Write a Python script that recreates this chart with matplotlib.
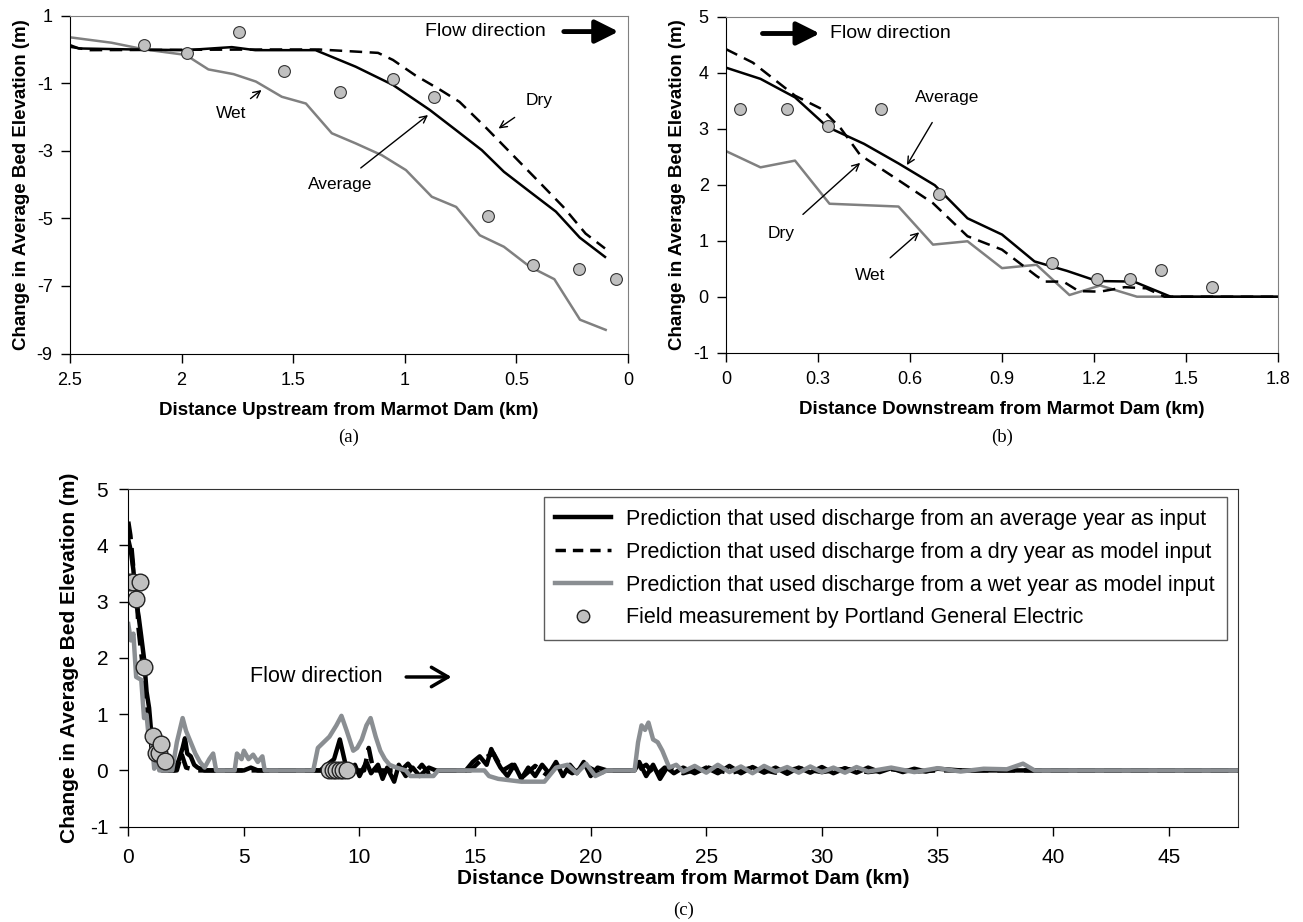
import numpy as np
import matplotlib.pyplot as plt

plt.rcParams['font.family'] = ['Liberation Sans', 'DejaVu Sans']
plt.rcParams['axes.unicode_minus'] = False

# ---- panel (a): upstream of the dam ----
a_avg_x = [2.5, 2.46, 2.21, 1.98, 1.775, 1.67, 1.40, 1.33, 1.22, 1.053, 0.888, 0.77, 0.655, 0.556, 0.44, 0.323, 0.216, 0.103]
a_avg_y = [0.13, 0.03, 0.0, -0.02, 0.07, -0.02, -0.02, -0.21, -0.51, -1.05, -1.79, -2.39, -2.98, -3.62, -4.21, -4.80, -5.57, -6.14]
a_dry_x = [2.5, 2.41, 2.0, 1.6, 1.385, 1.12, 1.053, 0.954, 0.84, 0.755, 0.64, 0.523, 0.406, 0.29, 0.19, 0.103]
a_dry_y = [0.08, -0.02, -0.01, 0.0, 0.0, -0.1, -0.31, -0.76, -1.2, -1.55, -2.29, -3.08, -3.87, -4.66, -5.45, -5.89]
a_wet_x = [2.5, 2.314, 2.165, 1.982, 1.88, 1.767, 1.667, 1.551, 1.443, 1.327, 1.22, 1.103, 0.995, 0.879, 0.77, 0.664, 0.556, 0.44, 0.33, 0.215, 0.1]
a_wet_y = [0.36, 0.2, 0.0, -0.16, -0.59, -0.73, -0.95, -1.4, -1.6, -2.48, -2.78, -3.13, -3.57, -4.36, -4.66, -5.5, -5.84, -6.43, -6.8, -8.0, -8.3]
a_obs_x = [2.168, 1.977, 1.742, 1.543, 1.292, 1.053, 0.871, 0.629, 0.426, 0.221, 0.053]
a_obs_y = [0.13, -0.1, 0.53, -0.64, -1.27, -0.87, -1.41, -4.93, -6.38, -6.51, -6.79]

# ---- panel (b): downstream of the dam ----
b_avg_x = [0.0, 0.1125, 0.225, 0.331, 0.45, 0.5625, 0.681, 0.7875, 0.9, 1.006, 1.1125, 1.21, 1.33, 1.45, 1.8]
b_avg_y = [4.09, 3.89, 3.56, 3.03, 2.73, 2.38, 1.99, 1.40, 1.11, 0.63, 0.46, 0.28, 0.27, 0.0, 0.0]
b_dry_x = [0.0, 0.0875, 0.225, 0.3125, 0.375, 0.4375, 0.5625, 0.675, 0.7875, 0.9, 1.0125, 1.04, 1.1, 1.15, 1.22, 1.3, 1.37, 1.43, 1.8]
b_dry_y = [4.42, 4.18, 3.59, 3.35, 3.0, 2.53, 2.08, 1.67, 1.08, 0.84, 0.37, 0.27, 0.27, 0.1, 0.09, 0.17, 0.15, 0.0, 0.0]
b_wet_x = [0.0, 0.1125, 0.225, 0.3375, 0.5625, 0.675, 0.7875, 0.9, 1.0125, 1.12, 1.22, 1.34, 1.8]
b_wet_y = [2.6, 2.31, 2.43, 1.66, 1.61, 0.93, 0.99, 0.51, 0.57, 0.03, 0.2, 0.0, 0.0]
b_obs_x = [0.046, 0.198, 0.331, 0.504, 0.696, 1.062, 1.209, 1.316, 1.419, 1.585]
b_obs_y = [3.35, 3.35, 3.04, 3.35, 1.83, 0.61, 0.31, 0.31, 0.47, 0.17]

# ---- panel (c): whole reach ----
c_avg_x = [0.0, 0.11, 0.22, 0.33, 0.45, 0.56, 0.68, 0.79, 0.9, 1.0, 1.11, 1.21, 1.33, 1.45, 2.0, 2.2, 2.35, 2.45,
           2.55, 2.7, 2.85, 3.0, 3.3, 5.0, 5.3, 5.6, 8.3, 8.6, 8.9, 9.15, 9.4, 9.6, 9.8, 10.0, 10.3, 10.5, 10.8,
           11.0, 11.2, 11.5, 11.7, 12.0, 12.3, 12.6, 13.0, 13.3, 14.6, 14.9, 15.2, 15.5, 15.7, 15.9, 16.1, 16.4,
           16.7, 17.0, 17.3, 17.6, 17.9, 18.2, 18.5, 18.8, 19.1, 19.4, 19.7, 20.0, 20.3, 20.7, 21.9, 22.1, 22.4,
           22.7, 23.0, 23.3, 23.6, 24.0, 24.5, 25.0, 25.5, 26.0, 26.5, 27.0, 27.5, 28.0, 28.5, 29.0, 29.5, 30.0,
           30.5, 31.0, 31.5, 32.0, 32.5, 33.0, 33.5, 34.0, 34.5, 35.0, 36.0, 48.0]
c_avg_y = [4.1, 3.9, 3.56, 3.03, 2.73, 2.38, 1.99, 1.4, 1.11, 0.63, 0.46, 0.28, 0.27, 0.0, 0.0, 0.2, 0.4, 0.57,
           0.3, 0.25, 0.1, 0.05, 0.0, 0.0, 0.05, 0.0, 0.0, 0.1, 0.2, 0.55, 0.1, -0.05, 0.1, -0.1, 0.15, -0.05, 0.1,
           -0.15, 0.05, -0.2, 0.1, -0.1, 0.05, -0.1, 0.05, 0.0, 0.0, 0.15, 0.25, 0.1, 0.38, 0.2, 0.05, -0.1,
           0.1, -0.15, 0.05, -0.1, 0.1, -0.05, 0.15, -0.1, 0.1, -0.05, 0.15, -0.1, 0.05, 0.0, 0.0, 0.15, -0.1,
           0.1, -0.15, 0.05, -0.05, 0.05, -0.05, 0.05, -0.05, 0.08, -0.05, 0.06, -0.04, 0.05, -0.06, 0.05, -0.04, 0.06,
           -0.05, 0.04, -0.04, 0.05, -0.03, 0.04, -0.03, 0.03, -0.02, 0.03, 0.0, 0.0]
c_dry_x = [0.0, 0.09, 0.22, 0.31, 0.38, 0.44, 0.56, 0.68, 0.79, 0.9, 1.01, 1.1, 1.2, 1.3, 1.43, 2.1, 2.3, 2.5,
           3.0, 10.2, 10.4, 10.6, 11.8, 12.1, 12.4, 12.7, 13.0, 13.3, 14.8, 15.3, 15.8, 16.2, 16.6, 17.1, 17.6,
           18.1, 18.6, 19.2, 19.8, 20.4, 20.7, 22.0, 22.4, 22.8, 23.2, 24.0, 25.0, 26.0, 27.0, 28.0, 29.0, 30.0,
           31.0, 32.0, 33.0, 34.0, 35.0, 48.0]
c_dry_y = [4.42, 4.18, 3.59, 3.35, 3.0, 2.53, 2.08, 1.67, 1.08, 0.84, 0.37, 0.27, 0.1, 0.17, 0.0, 0.0, 0.3, 0.05,
           0.0, 0.0, 0.4, 0.0, 0.0, 0.12, -0.05, 0.1, -0.05, 0.0, 0.0, 0.2, 0.3, 0.0, 0.1, -0.1, 0.08,
           -0.08, 0.1, -0.05, 0.08, -0.05, 0.0, 0.0, 0.1, -0.1, 0.05, -0.05, 0.06, -0.05, 0.05, -0.04, 0.04, -0.03,
           0.03, -0.03, 0.02, -0.02, 0.0, 0.0]
c_wet_x = [0.0, 0.11, 0.22, 0.34, 0.56, 0.68, 0.79, 0.9, 1.01, 1.12, 1.22, 1.34, 1.9, 2.1, 2.35, 2.5, 2.7, 2.9,
           3.1, 3.3, 3.5, 3.67, 3.8, 4.6, 4.7, 4.9, 5.0, 5.2, 5.4, 5.6, 5.8, 5.9, 8.0, 8.2, 8.45, 8.7, 9.0, 9.22,
           9.45, 9.73, 9.9, 10.1, 10.3, 10.48, 10.7, 10.9, 11.1, 11.3, 11.6, 12.0, 12.2, 13.2, 13.4, 15.4, 15.6,
           16.0, 17.0, 18.0, 18.5, 19.0, 19.4, 19.8, 20.2, 20.7, 21.9, 22.05, 22.2, 22.35, 22.5, 22.7, 22.9, 23.1,
           23.4, 23.7, 24.0, 24.5, 25.0, 25.5, 26.0, 26.5, 27.0, 27.5, 28.0, 28.5, 29.0, 29.5, 30.0, 30.5, 31.0,
           31.5, 32.0, 33.0, 34.0, 35.0, 36.0, 37.0, 38.0, 38.7, 39.2, 40.0, 48.0]
c_wet_y = [2.6, 2.31, 2.43, 1.66, 1.61, 0.93, 0.99, 0.51, 0.57, 0.03, 0.2, 0.0, 0.0, 0.5, 0.93, 0.7, 0.5, 0.3,
           0.15, 0.05, 0.2, 0.3, 0.0, 0.0, 0.3, 0.2, 0.35, 0.2, 0.28, 0.15, 0.25, 0.0, 0.0, 0.4, 0.5, 0.6, 0.8, 0.97,
           0.7, 0.35, 0.4, 0.55, 0.8, 0.93, 0.6, 0.35, 0.2, 0.1, 0.05, 0.0, -0.1, -0.1, 0.0, 0.0, -0.1,
           -0.15, -0.2, -0.2, 0.05, 0.1, -0.05, 0.12, -0.1, 0.0, 0.0, 0.5, 0.8, 0.72, 0.85, 0.55, 0.5, 0.35,
           0.05, 0.1, -0.02, 0.08, -0.04, 0.1, -0.03, 0.07, -0.05, 0.08, -0.02, 0.06, -0.04, 0.07, -0.03, 0.05, -0.04,
           0.06, -0.02, 0.05, -0.03, 0.04, -0.02, 0.03, 0.02, 0.12, 0.0, 0.0, 0.0]
c_obs_x = b_obs_x + [8.7, 8.85, 9.0, 9.15, 9.3, 9.45]
c_obs_y = b_obs_y + [0.0, 0.0, 0.0, 0.0, 0.0, 0.0]

legend_labels = ['Prediction that used discharge from an average year as input',
                 'Prediction that used discharge from a dry year as model input',
                 'Prediction that used discharge from a wet year as model input',
                 'Field measurement by Portland General Electric']

W, H = 1303, 922
fig = plt.figure(figsize=(W/100, H/100), dpi=100)

def box(l, t, r, b):
    return [l/W, 1-b/H, (r-l)/W, (b-t)/H]

gray = '#808080'
cgray = '#8a8e92'
ptc = '#c0c0c0'

def style(ax, top_gray=True):
    for s in ['left', 'bottom']:
        ax.spines[s].set_color('black')
    for s in ['top', 'right']:
        ax.spines[s].set_color(gray if top_gray else '#333333')
    ax.tick_params(direction='out', length=6.5, width=1, colors='black')

# (a)
ax = fig.add_axes(box(70, 15.7, 628, 353.5))
ax.plot(a_wet_x, a_wet_y, color=gray, lw=1.8)
ax.plot(a_dry_x, a_dry_y, color='black', lw=1.8, ls=(0, (5, 3)))
ax.plot(a_avg_x, a_avg_y, color='black', lw=1.8)
ax.plot(a_obs_x, a_obs_y, 'o', ms=8.5, mfc=ptc, mec='#333333', mew=0.8)
ax.set_xlim(2.5, 0)
ax.set_ylim(-9, 1)
ax.set_xticks([2.5, 2, 1.5, 1, 0.5, 0])
ax.set_xticklabels(['2.5', '2', '1.5', '1', '0.5', '0'])
ax.set_yticks([1, -1, -3, -5, -7, -9])
style(ax)
ax.tick_params(labelsize=13)
ax.tick_params(axis='y', pad=6)
ax.tick_params(axis='x', pad=7)
ax.set_xlabel('Distance Upstream from Marmot Dam (km)', fontsize=13.5, fontweight='bold', labelpad=9)
ax.set_ylabel('Change in Average Bed Elevation (m)', fontsize=13.5, fontweight='bold', labelpad=5)
ax.text(0.91, 0.53, 'Flow direction', fontsize=14, va='center', ha='left')
ax.annotate('', xy=(0.03, 0.53), xytext=(0.30, 0.53),
            arrowprops=dict(arrowstyle='-|>,head_length=1.0,head_width=0.5', lw=3.5, color='black', mutation_scale=14))
ax.annotate('Wet', xy=(1.642, -1.2), xytext=(1.78, -1.91), fontsize=12.5, ha='center', va='center',
            arrowprops=dict(arrowstyle='->', lw=1, color='black', shrinkA=6, shrinkB=0))
ax.annotate('Dry', xy=(0.58, -2.34), xytext=(0.40, -1.52), fontsize=12.5, ha='center', va='center',
            arrowprops=dict(arrowstyle='->', lw=1, color='black', shrinkA=8, shrinkB=0))
ax.annotate('Average', xy=(0.896, -1.94), xytext=(1.29, -3.99), fontsize=12.5, ha='center', va='center',
            arrowprops=dict(arrowstyle='->', lw=1, color='black', shrinkA=7, shrinkB=0))
fig.text((70+628)/2/W, 1-437/H, '(a)', family='Liberation Serif', fontsize=13.5, ha='center', va='center')

# (b)
ax = fig.add_axes(box(726, 16.7, 1278, 352.7))
ax.plot(b_wet_x, b_wet_y, color=gray, lw=1.8)
ax.plot(b_dry_x, b_dry_y, color='black', lw=1.8, ls=(0, (5, 3)))
ax.plot(b_avg_x, b_avg_y, color='black', lw=1.8)
ax.plot(b_obs_x, b_obs_y, 'o', ms=8.5, mfc=ptc, mec='#333333', mew=0.8)
ax.set_xlim(0, 1.8)
ax.set_ylim(-1, 5)
ax.set_xticks([0, 0.3, 0.6, 0.9, 1.2, 1.5, 1.8])
ax.set_xticklabels(['0', '0.3', '0.6', '0.9', '1.2', '1.5', '1.8'])
ax.set_yticks(range(-1, 6))
style(ax)
ax.tick_params(labelsize=13)
ax.tick_params(axis='y', pad=6)
ax.tick_params(axis='x', pad=7)
ax.set_xlabel('Distance Downstream from Marmot Dam (km)', fontsize=13.5, fontweight='bold', labelpad=9)
ax.set_ylabel('Change in Average Bed Elevation (m)', fontsize=13.5, fontweight='bold', labelpad=5)
ax.text(0.34, 4.7, 'Flow direction', fontsize=14, va='center', ha='left')
ax.annotate('', xy=(0.315, 4.7), xytext=(0.11, 4.7),
            arrowprops=dict(arrowstyle='-|>,head_length=1.0,head_width=0.5', lw=3.5, color='black', mutation_scale=14))
ax.annotate('Average', xy=(0.59, 2.35), xytext=(0.72, 3.55), fontsize=12.5, ha='center', va='center',
            arrowprops=dict(arrowstyle='->', lw=1, color='black', shrinkA=12, shrinkB=0))
ax.annotate('Dry', xy=(0.4375, 2.39), xytext=(0.18, 1.12), fontsize=12.5, ha='center', va='center',
            arrowprops=dict(arrowstyle='->', lw=1, color='black', shrinkA=10, shrinkB=0))
ax.annotate('Wet', xy=(0.63, 1.15), xytext=(0.47, 0.38), fontsize=12.5, ha='center', va='center',
            arrowprops=dict(arrowstyle='->', lw=1, color='black', shrinkA=8, shrinkB=0))
fig.text((726+1278)/2/W, 1-437/H, '(b)', family='Liberation Serif', fontsize=13.5, ha='center', va='center')

# (c)
ax = fig.add_axes(box(128.3, 489, 1238, 826.7))
l1, = ax.plot(c_avg_x, c_avg_y, color='black', lw=3.2)
l2, = ax.plot(c_dry_x, c_dry_y, color='black', lw=3.2, ls=(0, (4, 2)))
l3, = ax.plot(c_wet_x, c_wet_y, color=cgray, lw=3.2)
l4, = ax.plot(c_obs_x, c_obs_y, 'o', ms=12, mfc=ptc, mec='#222222', mew=1)
ax.set_xlim(0, 48)
ax.set_ylim(-1, 5)
ax.set_xticks(range(0, 50, 5))
ax.set_yticks(range(-1, 6))
style(ax, top_gray=False)
ax.tick_params(labelsize=15)
ax.tick_params(axis='y', pad=8)
ax.tick_params(axis='x', pad=9)
ax.set_xlabel('Distance Downstream from Marmot Dam (km)', fontsize=15, fontweight='bold', labelpad=1)
ax.set_ylabel('Change in Average Bed Elevation (m)', fontsize=15, fontweight='bold', labelpad=8)
ax.text(5.26, 1.66, 'Flow direction', fontsize=15.5, va='center', ha='left')
ax.annotate('', xy=(14.1, 1.66), xytext=(11.9, 1.66),
            arrowprops=dict(arrowstyle='->,head_length=0.6,head_width=0.35', lw=2.5, color='black', mutation_scale=20))
h_dry = plt.Line2D([], [], color='black', lw=2.5, ls=(0, (3, 2)))
h_obs = plt.Line2D([], [], ls='none', marker='o', ms=9, mfc=ptc, mec='#222222', mew=1)
leg = ax.legend([l1, h_dry, l3, h_obs], legend_labels, loc='upper right', bbox_to_anchor=(0.990, 0.976),
                borderaxespad=0, fontsize=15.5, frameon=True, fancybox=False, handlelength=2.6,
                handletextpad=0.7, borderpad=0.55, labelspacing=0.55)
leg.get_frame().set_edgecolor('#333333')
leg.get_frame().set_linewidth(1)
fig.text((128.3+1238)/2/W, 1-910/H, '(c)', family='Liberation Serif', fontsize=13.5, ha='center', va='center')

fig.savefig('out.png', dpi=100)
